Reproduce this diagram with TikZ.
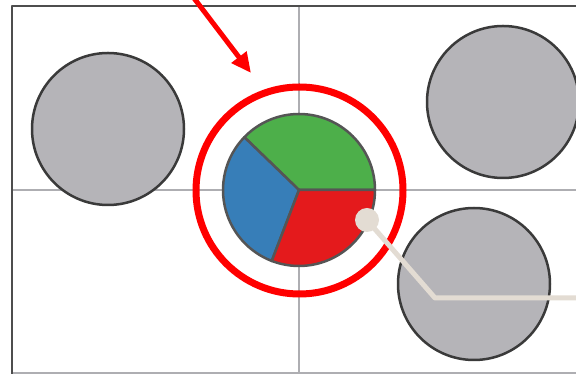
\documentclass[tikz,border=0pt]{standalone}
\usetikzlibrary{arrows.meta}
\definecolor{frame}{HTML}{4D4D4D}
\definecolor{gridline}{HTML}{AEAEB2}
\definecolor{disk}{HTML}{B5B4B8}
\definecolor{edge}{HTML}{3A3A3A}
\definecolor{pieline}{HTML}{555555}
\definecolor{pgreen}{HTML}{4DAF4A}
\definecolor{pblue}{HTML}{377EB8}
\definecolor{pred}{HTML}{E41A1C}
\definecolor{hilite}{HTML}{FF0000}
\definecolor{beige}{HTML}{E3DCD3}

\begin{document}
\begin{tikzpicture}[x=1pt,y=1pt,line join=round,disc/.style={circle,inner sep=0pt,minimum size=152pt,fill=disk,draw=edge,line width=2.5pt},ring/.style={circle,inner sep=0pt,minimum size=207pt,draw=hilite,line width=7pt},lead/.style={beige,line width=5pt}]
\useasboundingbox (0,0) rectangle (576,374);
\clip (0,0) rectangle (576,374);

% frame and grid
\draw[gridline,line width=1.5pt] (12,1)--(580,1);
\draw[gridline,line width=1.5pt] (299,0)--(299,368) (12,184)--(580,184);
\draw[frame,line width=2.5pt] (12,0)--(12,368)--(580,368);

\node[disc] (nw) at (108,245) {};
\node[disc] (ne) at (503,272) {};
\node[disc] (se) at (474,90) {};

% pie
\coordinate (pie) at (299,184);
\foreach \a/\b/\c in {0/136/pgreen,136/249/pblue,249/360/pred}
  \filldraw[fill=\c,draw=pieline,line width=2.5pt] (pie) -- ++(\a:76) arc[start angle=\a,end angle=\b,radius=76] -- cycle;
\node[ring] (hl) at (299.5,183.5) {};

% pointer
\coordinate (from) at (184,389);
\coordinate (tip) at (251,301);
\draw[-{Triangle[length=20pt,width=18pt]},hilite,line width=5pt] (from) -- (tip);

% leader
\coordinate (bend) at (435,76);
\coordinate (out) at (590,76);
\node[circle,fill=beige,inner sep=0pt,minimum size=24pt] (dot) at (367,154) {};
\draw[lead] (dot.center) -- (bend) -- (out);

\end{tikzpicture}
\end{document}
